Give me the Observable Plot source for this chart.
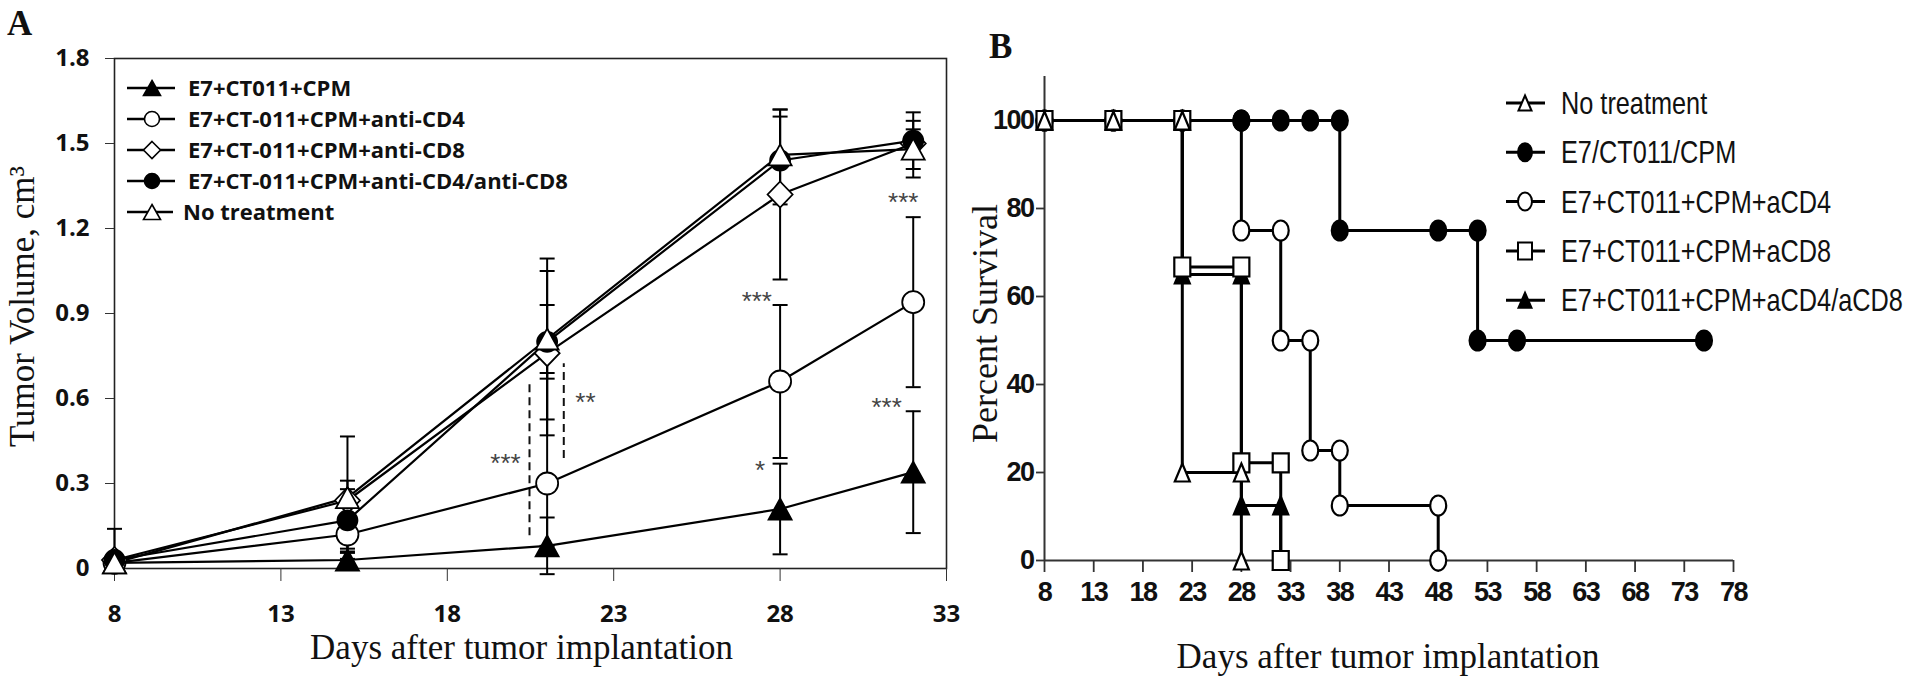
<!DOCTYPE html>
<html><head><meta charset="utf-8">
<script src="https://cdn.jsdelivr.net/npm/d3@7"></script>
<script src="https://cdn.jsdelivr.net/npm/@observablehq/plot@0.6"></script>
<style>
html,body{margin:0;padding:0;background:#fff;}
#wrap{position:relative;width:1920px;height:686px;overflow:hidden;background:#fff;}
#wrap > svg{position:absolute;top:0;}
</style></head>
<body><div id="wrap"></div>
<script>
// ---------------- Panel A data (tumor volume, cm^3) ----------------
const daysA = [8, 15, 21, 28, 32];
const seriesA = ["E7+CT011+CPM", "E7+CT-011+CPM+anti-CD4", "E7+CT-011+CPM+anti-CD8", "E7+CT-011+CPM+anti-CD4/anti-CD8", "No treatment"];
const volCPM    = [0.02, 0.03, 0.08, 0.21, 0.34];
const volCD4    = [0.02, 0.12, 0.30, 0.66, 0.94];
const volCD8    = [0.03, 0.24, 0.76, 1.32, 1.50];
const volCD4CD8 = [0.03, 0.17, 0.80, 1.44, 1.51];
const volNoTx   = [0.02, 0.25, 0.81, 1.46, 1.48];
const errHiCPM    = [0.01, 0.025, 0.10, 0.16, 0.215];
const errLoCPM    = [0.01, 0.025, 0.10, 0.16, 0.215];
const errHiCD4    = [0.01, 0.05, 0.39, 0.27, 0.30];
const errLoCD4    = [0.01, 0.05, 0.22, 0.27, 0.30];
const errHiCD8    = [0.01, 0.07, 0.29, 0.30, 0.05];
const errLoCD8    = [0.01, 0.07, 0.29, 0.30, 0.05];
const errHiCD4CD8 = [0.01, 0.11, 0.13, 0.155, 0.10];
const errLoCD4CD8 = [0.01, 0.11, 0.13, 0.155, 0.10];
const errHiNoTx   = [0.12, 0.216, 0.284, 0.16, 0.10];
const errLoNoTx   = [0.01, 0.216, 0.284, 0.16, 0.10];
const xTicksA = [8, 13, 18, 23, 28, 33];
const yTicksA = [0, 0.3, 0.6, 0.9, 1.2, 1.5, 1.8];
// significance annotations
const starLabels = ["***", "***", "***", "*", "**", "***"];
const starDays   = [31.7, 27.3, 31.2, 27.4, 22.15, 19.75];
const starVols   = [1.317, 0.967, 0.593, 0.37, 0.61, 0.395];
const dashDays = [20.47, 21.5];
const dashFrom = [0.116, 0.388];
const dashTo   = [0.657, 0.723];

// ---------------- Panel B data (percent survival) ----------------
const seriesB = ["No treatment", "E7/CT011/CPM", "E7+CT011+CPM+aCD4", "E7+CT011+CPM+aCD8", "E7+CT011+CPM+aCD4/aCD8"];
const survNoTx   = [[8,100],[15,100],[22,100],[22,20],[28,20],[28,0]];
const survCtl    = [[8,100],[15,100],[22,100],[28,100],[32,100],[35,100],[38,100],[38,75],[48,75],[52,75],[52,50],[56,50],[75,50]];
const survCD4    = [[8,100],[15,100],[22,100],[28,100],[28,75],[32,75],[32,50],[35,50],[35,25],[38,25],[38,12.5],[48,12.5],[48,0]];
const survCD8    = [[8,100],[15,100],[22,100],[22,66.7],[28,66.7],[28,22.2],[32,22.2],[32,0]];
const survCD4CD8 = [[8,100],[15,100],[22,100],[22,65],[28,65],[28,12.5],[32,12.5],[32,0]];
const xTicksB = [8,13,18,23,28,33,38,43,48,53,58,63,68,73,78];
const yTicksB = [0,20,40,60,80,100];

// ---------------- marker shapes ----------------
const triSym = (w,h) => ({draw(c){c.moveTo(0,-h/2);c.lineTo(w/2,h/2);c.lineTo(-w/2,h/2);c.closePath();}});
const rectSym = (w,h) => ({draw(c){c.moveTo(-w/2,-h/2);c.lineTo(w/2,-h/2);c.lineTo(w/2,h/2);c.lineTo(-w/2,h/2);c.closePath();}});
const diaSym = (w,h) => ({draw(c){c.moveTo(0,-h/2);c.lineTo(w/2,0);c.lineTo(0,h/2);c.lineTo(-w/2,0);c.closePath();}});
const ellSym = (w,h) => ({draw(c){const rx=w/2, ry=h/2, k=0.5523;
  c.moveTo(rx,0);c.bezierCurveTo(rx,k*ry,k*rx,ry,0,ry);c.bezierCurveTo(-k*rx,ry,-rx,k*ry,-rx,0);
  c.bezierCurveTo(-rx,-k*ry,-k*rx,-ry,0,-ry);c.bezierCurveTo(k*rx,-ry,rx,-k*ry,rx,0);c.closePath();}});
const capSym = (w) => ({draw(c){c.moveTo(-w/2,0);c.lineTo(w/2,0);}});

const styleA = [
  {sym: triSym(23,21), fill: "#000"},
  {sym: ellSym(22,22), fill: "#fff"},
  {sym: diaSym(25,26), fill: "#fff"},
  {sym: ellSym(20,20), fill: "#000"},
  {sym: triSym(23,21), fill: "#fff"}
];
const legSymA = [triSym(17,15), ellSym(15,15), diaSym(17,17), ellSym(15,15), triSym(17,15)];

// ---------------- Panel A ----------------
const volsA = [volCPM, volCD4, volCD8, volCD4CD8, volNoTx];
const errHiA = [errHiCPM, errHiCD4, errHiCD8, errHiCD4CD8, errHiNoTx];
const errLoA = [errLoCPM, errLoCD4, errLoCD8, errLoCD4CD8, errLoNoTx];
const rowsA = seriesA.flatMap((s, i) => daysA.map((d, j) => ({
  series: s, idx: i, day: d, vol: volsA[i][j],
  lo: volsA[i][j] - errLoA[i][j], hi: volsA[i][j] + errHiA[i][j]
})));
const stars = starLabels.map((t, i) => ({label: t, day: starDays[i], vol: starVols[i]}));
const dashes = dashDays.map((d, i) => ({day: d, from: dashFrom[i], to: dashTo[i]}));

const tickFont = "'Open Sans', 'Liberation Sans', sans-serif";
const serif = "'Liberation Serif', 'DejaVu Serif', serif";
const narrow = "'Liberation Sans Narrow', 'Liberation Sans', sans-serif";

const plotA = Plot.plot({
  width: 960, height: 686,
  marginLeft: 114, marginRight: 14, marginTop: 58, marginBottom: 118,
  x: {domain: [8, 33]},
  y: {domain: [0, 1.8]},
  style: {background: "transparent", color: "#111", overflow: "visible"},
  marks: [
    Plot.frame({stroke: "#222", strokeWidth: 1.6}),
    Plot.axisX({ticks: xTicksA, tickSize: 13, tickPadding: 23, label: null, fontSize: 24, fontWeight: 700, fontFamily: tickFont, stroke: "#333"}),
    Plot.axisY({ticks: yTicksA, tickSize: 9, tickPadding: 16, label: null, tickFormat: d => d === 0 ? "0" : d.toFixed(1), fontSize: 24, fontWeight: 700, fontFamily: tickFont, stroke: "#333"}),
    Plot.ruleX(dashes, {x: "day", y1: "from", y2: "to", stroke: "#111", strokeWidth: 2, strokeDasharray: "8,5"}),
    Plot.text(stars, {x: "day", y: "vol", text: "label", fontSize: 26, fontFamily: "'Liberation Sans', sans-serif", fill: "#444", dy: 7}),
    Plot.line(rowsA, {x: "day", y: "vol", z: "series", stroke: "#000", strokeWidth: 2.2}),
    Plot.ruleX(rowsA, {x: "day", y1: "lo", y2: "hi", stroke: "#000", strokeWidth: 2}),
    Plot.dot(rowsA, {x: "day", y: "lo", symbol: capSym(15), stroke: "#000", strokeWidth: 2, fill: "none"}),
    Plot.dot(rowsA, {x: "day", y: "hi", symbol: capSym(15), stroke: "#000", strokeWidth: 2, fill: "none"}),
    ...styleA.map((st, i) => Plot.dot(rowsA.filter(r => r.idx === i), {x: "day", y: "vol", symbol: st.sym, fill: st.fill, stroke: "#000", strokeWidth: 1.8})),
    Plot.text(["Days after tumor implantation"], {frameAnchor: "bottom", textAnchor: "middle", lineAnchor: "top", dy: 66, dx: -9, fontSize: 35, fontFamily: serif, fill: "#111"}),
    Plot.text(["Tumor Volume, cm\u00B3"], {frameAnchor: "left", textAnchor: "middle", lineAnchor: "middle", rotate: -90, dx: -92, dy: -7, fontSize: 35, fontFamily: serif, fill: "#111"})
  ]
});
plotA.style.left = "0px";
document.getElementById("wrap").appendChild(plotA);
d3.select(plotA).selectAll('g[aria-label="x-axis tick label"], g[aria-label="y-axis tick label"]')
  .attr("font-size", 24).attr("font-weight", 700).attr("font-family", tickFont);

// ---------------- Panel B ----------------
const survB = [survNoTx, survCtl, survCD4, survCD8, survCD4CD8];
const styleB = [
  {sym: triSym(15,18), fill: "#fff"},
  {sym: ellSym(16,20), fill: "#000"},
  {sym: ellSym(16,20), fill: "#fff"},
  {sym: rectSym(16,19), fill: "#fff"},
  {sym: triSym(15,18), fill: "#000"}
];
const rowsB = seriesB.flatMap((s, i) => survB[i].map(([d, p]) => ({series: s, idx: i, day: d, pct: p})));
// drawing order (bottom -> top) so overlapping symbols stack as in the figure
const drawOrderB = [2, 1, 4, 3, 0];

const plotB = Plot.plot({
  width: 960, height: 686,
  marginLeft: 84, marginRight: 187, marginTop: 76, marginBottom: 126,
  x: {domain: [8, 78]},
  y: {domain: [0, 110]},
  style: {background: "transparent", color: "#111", overflow: "visible"},
  marks: [
    Plot.ruleX([8], {stroke: "#333", strokeWidth: 2}),
    Plot.ruleY([0], {stroke: "#333", strokeWidth: 2}),
    Plot.axisX({ticks: xTicksB, tickSize: 12, tickPadding: 9, label: null, fontSize: 27, fontWeight: 700, fontFamily: narrow, stroke: "#333", strokeWidth: 1.8}),
    Plot.axisY({ticks: yTicksB, tickSize: 8, tickPadding: 3, label: null, fontSize: 27, fontWeight: 700, fontFamily: narrow, stroke: "#333", strokeWidth: 1.8}),
    ...drawOrderB.map(i => Plot.line(rowsB.filter(r => r.idx === i), {x: "day", y: "pct", stroke: "#000", strokeWidth: 3})),
    ...drawOrderB.map(i => Plot.dot(rowsB.filter(r => r.idx === i), {x: "day", y: "pct", symbol: styleB[i].sym, fill: styleB[i].fill, stroke: "#000", strokeWidth: 2.2})),
    Plot.text(["Days after tumor implantation"], {frameAnchor: "bottom", textAnchor: "middle", lineAnchor: "top", dy: 83, dx: -1, fontSize: 35, fontFamily: serif, fill: "#111"}),
    Plot.text(["Percent Survival"], {frameAnchor: "left", textAnchor: "middle", lineAnchor: "middle", rotate: -90, dx: -59, dy: 5, fontSize: 36, fontFamily: serif, fill: "#111"})
  ]
});
plotB.style.left = "960px";
document.getElementById("wrap").appendChild(plotB);
d3.select(plotB).selectAll('g[aria-label="x-axis tick label"], g[aria-label="y-axis tick label"]')
  .attr("font-size", 27).attr("font-weight", 700).attr("font-family", narrow)
  .style("letter-spacing", "-1.5px");

// ---------------- Legends and panel letters (overlay) ----------------
const ov = d3.select("#wrap").append("svg")
  .attr("width", 1920).attr("height", 686).style("left", "0px").style("pointer-events", "none");

ov.append("text").attr("x", 7).attr("y", 35).text("A")
  .attr("font-family", serif).attr("font-weight", 700).attr("font-size", 35).attr("fill", "#111");
ov.append("text").attr("x", 989).attr("y", 58).text("B")
  .attr("font-family", serif).attr("font-weight", 700).attr("font-size", 35).attr("fill", "#111");

const legA = ov.append("g");
seriesA.forEach((name, i) => {
  const y = 88 + i * 31;
  legA.append("line").attr("x1", 127).attr("x2", i === 4 ? 173 : 175).attr("y1", y).attr("y2", y)
    .attr("stroke", "#000").attr("stroke-width", 2.5);
  legA.append("path").attr("d", d3.symbol(legSymA[i])()).attr("transform", `translate(152,${y})`)
    .attr("fill", styleA[i].fill).attr("stroke", "#000").attr("stroke-width", 1.6);
  legA.append("text").attr("x", i === 4 ? 183 : 188).attr("y", y).attr("dy", "0.36em").text(name)
    .attr("font-family", tickFont).attr("font-weight", 700).attr("font-size", 22).attr("fill", "#111");
});

const legB = ov.append("g");
const legSymB = [triSym(13,15), ellSym(14,18), ellSym(14,18), rectSym(14,17), triSym(13,15)];
const legTextsB = [];
seriesB.forEach((name, i) => {
  const y = 103 + i * 49.3;
  legB.append("line").attr("x1", 1506).attr("x2", 1545).attr("y1", y).attr("y2", y)
    .attr("stroke", "#000").attr("stroke-width", 3);
  legB.append("path").attr("d", d3.symbol(legSymB[i])()).attr("transform", `translate(1525,${y})`)
    .attr("fill", styleB[i].fill).attr("stroke", "#000").attr("stroke-width", 2);
  legTextsB.push(legB.append("text").attr("x", 0).attr("y", 0).attr("dy", "0.36em").text(name)
    .attr("font-family", narrow).attr("font-size", 31).attr("fill", "#111")
    .attr("data-y", y));
});
// squeeze horizontally (the original uses a narrow face) so the longest entry fits the space it had
const longest = d3.max(legTextsB, t => t.node().getComputedTextLength());
const sx = Math.min(1, 342 / longest);
legTextsB.forEach(t => t.attr("transform", `translate(1561,${t.attr("data-y")}) scale(${sx},1)`));
</script>
</body></html>
